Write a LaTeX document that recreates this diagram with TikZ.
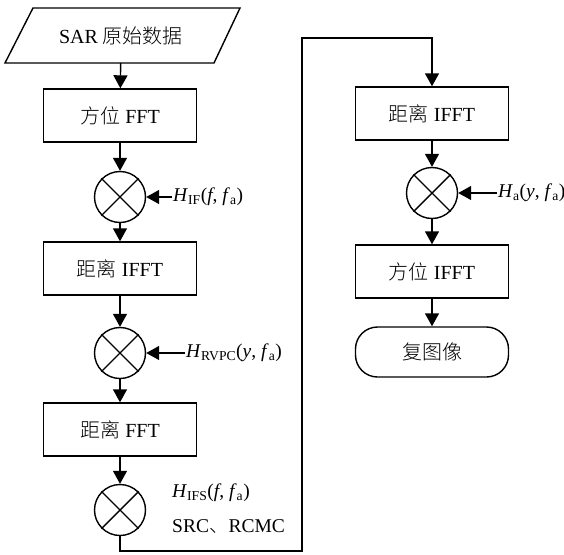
\documentclass[tikz,border=0pt]{standalone}
\usepackage{fontspec}
\setmainfont{Liberation Serif}
\newfontfamily\cjk{Noto Sans CJK SC}[UprightFont={* Light}]
\usetikzlibrary{arrows.meta}
\newcommand\zh[1]{{\cjk #1}}
\newcommand\lbl[2]{\textit{#1}\textsubscript{#2}}
\tikzset{
  base/.style={line width=1.4pt},
  stepbox/.style={base, draw, rectangle, minimum width=153pt, minimum height=53pt, inner sep=0pt,
    font=\fontsize{20}{24}\selectfont},
  mixer/.style={base, draw, circle, minimum size=51pt, inner sep=0pt},
  flow/.style={base, -{Triangle[width=14pt,length=13pt]}},
  tag/.style={inner sep=1pt, anchor=west, font=\fontsize{19.5}{23}\selectfont},
}
\begin{document}
\begin{tikzpicture}[x=1pt,y=-1pt]
\useasboundingbox (0,0) rectangle (564,554);

% input data (parallelogram)
\node[inner sep=0pt, minimum width=180pt, minimum height=55pt, font=\fontsize{20}{24}\selectfont] (data) at (121,35.5) {SAR \zh{原始数据}};
\draw[base] (33,8) -- (240,8) -- (214,63) -- (5,63) -- cycle;

% left column
\node[stepbox] (b1) at (120,115.5) {\zh{方位} FFT};
\node[mixer] (m1) at (120,197) {};
\node[stepbox] (b2) at (120,268.5) {\zh{距离} IFFT};
\node[mixer] (m2) at (120,353) {};
\node[stepbox] (b3) at (120,429.5) {\zh{距离} FFT};
\node[mixer] (m3) at (120,510) {};

% right column
\node[stepbox] (b4) at (432,113.5) {\zh{距离} IFFT};
\node[mixer] (m4) at (432,193) {};
\node[stepbox] (b5) at (432,271.5) {\zh{方位} IFFT};
\node[stepbox, rounded corners=22pt, minimum height=50pt] (out) at (432,352) {\zh{复图像}};

% crosses inside the multipliers
\foreach \m in {m1,m2,m3,m4}{
  \draw[base] (\m.45) -- (\m.225);
  \draw[base] (\m.135) -- (\m.315);
}

% filter labels
\node[tag] (lif) at (172,197) {\lbl{H}{IF}(\textit{f}, \textit{f}\textsubscript{a})};
\node[tag] (lrv) at (185,353) {\lbl{H}{RVPC}(\textit{y}, \textit{f}\textsubscript{a})};
\node[tag] (lifs) at (171,493) {\lbl{H}{IFS}(\textit{f}, \textit{f}\textsubscript{a})};
\node[tag] (lsrc) at (171,527) {SRC\zh{、}RCMC};
\node[tag] (la) at (497,193) {\lbl{H}{a}(\textit{y}, \textit{f}\textsubscript{a})};

% main flow
\draw[flow] (data) -- (b1);
\draw[flow] (b1) -- (m1);
\draw[flow] (m1) -- (b2);
\draw[flow] (b2) -- (m2);
\draw[flow] (m2) -- (b3);
\draw[flow] (b3) -- (m3);
\coordinate (lb) at (120,551);
\coordinate (rb) at (302,551);
\coordinate (rt) at (302,38);
\coordinate (tt) at (432,38);
\draw[flow] (m3) -- (lb) -- (rb) -- (rt) -- (tt) -- (b4);
\draw[flow] (b4) -- (m4);
\draw[flow] (m4) -- (b5);
\draw[flow] (b5) -- (out);

% filter inputs
\draw[flow] (lif.west) -- (m1);
\draw[flow] (lrv.west) -- (m2);
\draw[flow] (la.west) -- (m4);
\end{tikzpicture}
\end{document}
